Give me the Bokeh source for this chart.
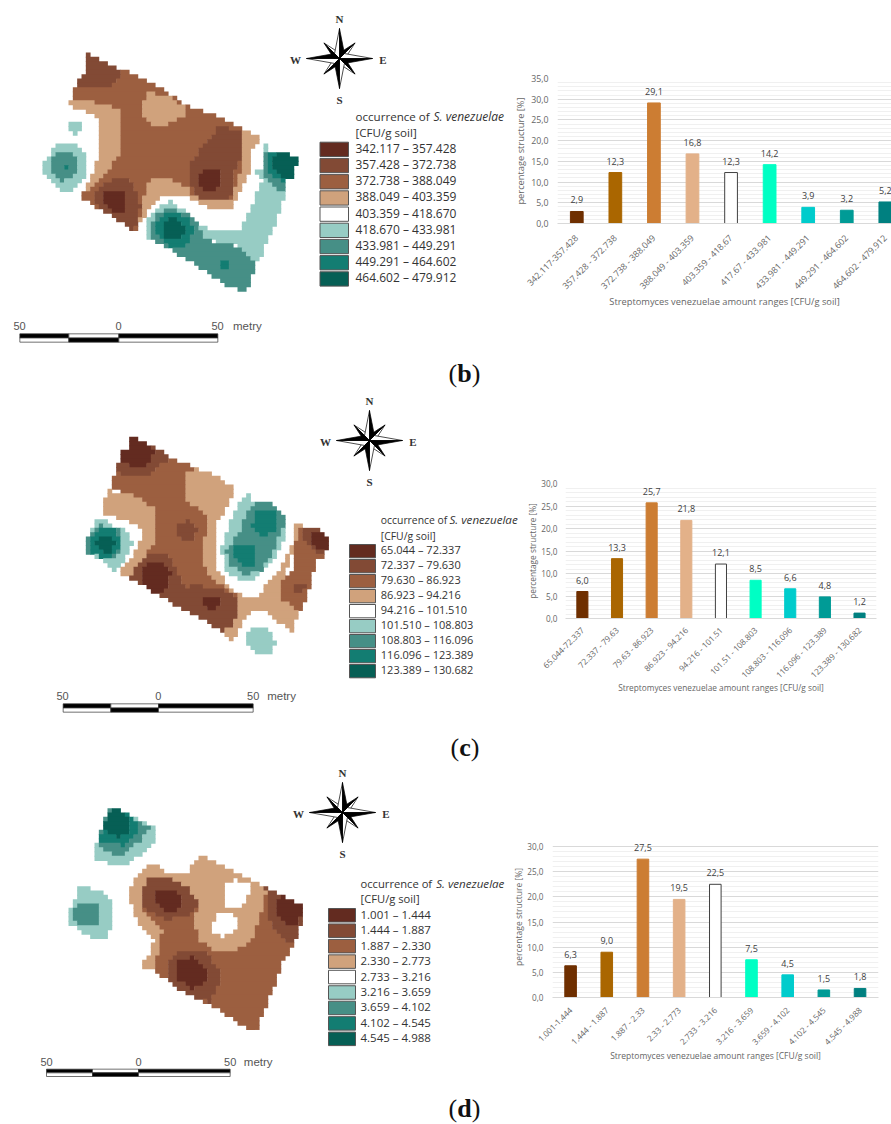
import math
import numpy as np
from bokeh.embed import file_html
from bokeh.resources import INLINE
from bokeh.plotting import figure
from bokeh.layouts import column, row
from bokeh.models import Range1d, FixedTicker, ColumnDataSource
from bokeh.core.properties import value

# ---------- data ----------
CHART_COLORS = ["#6F2F00", "#AA6600", "#CC7D33", "#E3B189", "#FFFFFF", "#00FFC4", "#00CCCC", "#009B96", "#008080"]
CLASS_COLORS = {1: "#632B20", 2: "#824A35", 3: "#9C5F40", 4: "#D0A27C", 6: "#97CCC4", 7: "#468F86", 8: "#137D72", 9: "#065F55"}
LEGEND_COLORS = ["#632B20", "#824A35", "#9C5F40", "#D0A27C", "#FFFFFF", "#97CCC4", "#468F86", "#137D72", "#065F55"]

b_values = [2.9, 12.3, 29.1, 16.8, 12.3, 14.2, 3.9, 3.2, 5.2]
b_ticks = ["342.117-357.428", "357.428 - 372.738", "372.738 - 388.049", "388.049 - 403.359", "403.359 - 418.67",
           "417.67 - 433.981", "433.981 - 449.291", "449.291 - 464.602", "464.602 - 479.912"]
b_legend = ["342.117 – 357.428", "357.428 – 372.738", "372.738 – 388.049", "388.049 – 403.359", "403.359 – 418.670",
            "418.670 – 433.981", "433.981 – 449.291", "449.291 – 464.602", "464.602 – 479.912"]

c_values = [6.0, 13.3, 25.7, 21.8, 12.1, 8.5, 6.6, 4.8, 1.2]
c_ticks = ["65.044-72.337", "72.337 - 79.63", "79.63 - 86.923", "86.923 - 94.216", "94.216 - 101.51",
           "101.51 - 108.803", "108.803 - 116.096", "116.096 - 123.389", "123.389 - 130.682"]
c_legend = ["65.044 – 72.337", "72.337 – 79.630", "79.630 – 86.923", "86.923 – 94.216", "94.216 – 101.510",
            "101.510 – 108.803", "108.803 – 116.096", "116.096 – 123.389", "123.389 – 130.682"]

d_values = [6.3, 9.0, 27.5, 19.5, 22.5, 7.5, 4.5, 1.5, 1.8]
d_ticks = ["1.001-1.444", "1.444 - 1.887", "1.887 - 2.33", "2.33 - 2.773", "2.733 - 3.216",
           "3.216 - 3.659", "3.659 - 4.102", "4.102 - 4.545", "4.545 - 4.988"]
d_legend = ["1.001 – 1.444", "1.444 – 1.887", "1.887 – 2.330", "2.330 – 2.773", "2.733 – 3.216",
            "3.216 – 3.659", "3.659 – 4.102", "4.102 – 4.545", "4.545 – 4.988"]

# Map zones: (class, outline); painted in order, then rastered to the map's cells.
map_b_zones = [
 (3, [(262,158),(285,170),(340,200),(365,205),(470,255),(560,318),(640,340),(750,395),(775,412),(775,430),(750,440),(750,500),(725,560),(690,630),(630,625),(560,590),(490,580),(450,620),(415,670),(405,690),(395,690),(340,650),(235,585),(265,545),(290,480),(300,390),(285,340),(210,318),(210,295),(222,290),(222,265),(235,260),(235,228),(250,225)]),
 (4, [(210,295),(270,300),(365,330),(365,400),(355,470),(285,550),(235,585),(265,545),(290,480),(300,390),(285,340),(210,318)]),
 (4, [(445,275),(500,285),(560,320),(555,340),(520,365),(480,385),(420,350),(430,300)]),
 (4, [(440,560),(450,535),(500,535),(565,565),(575,585),(640,600),(690,600),(725,500),(725,390),(750,395),(775,412),(775,430),(750,440),(750,500),(725,560),(690,630),(630,625),(560,590),(490,580),(450,620),(415,670),(425,600)]),
 (2, [(262,158),(285,170),(340,200),(365,220),(328,265),(235,262),(235,228),(250,225)]),
 (2, [(725,390),(655,380),(605,440),(570,490),(565,550),(590,590),(640,600),(690,595),(700,510),(725,460)]),
 (2, [(290,560),(345,530),(385,535),(405,570),(420,620),(405,680),(395,685),(340,650),(285,610)]),
 (1, [(590,515),(660,505),(660,560),(625,575),(590,550)]),
 (1, [(310,575),(378,572),(378,625),(345,645),(310,610)]),
 (6, [(218,360),(235,360),(235,370),(247,370),(247,390),(235,390),(235,398),(218,398),(218,390),(207,390),(207,370),(218,370)]),
 (6, [(165,428),(225,428),(248,450),(260,480),(260,520),(235,545),(210,570),(180,570),(150,530),(125,520),(125,495),(150,460)]),
 (7, [(180,452),(210,452),(235,475),(235,510),(210,530),(190,545),(165,525),(152,505),(152,470)]),
 (8, [(192,488),(208,488),(208,505),(192,505)]),
 (6, [(790,427),(805,440),(800,520),(830,560),(860,570),(845,600),(825,670),(790,740),(775,785),(750,770),(710,735),(640,725),(620,715),(610,690),(580,650),(510,600),(470,625),(440,660),(432,690),(445,710),(540,765),(620,760),(700,740),(790,530),(762,518),(762,505),(790,505)]),
 (6, [(600,670),(630,690),(760,690),(810,600),(840,600),(790,740),(775,785),(710,735),(620,715)]),
 (7, [(790,450),(805,450),(805,510),(825,530),(860,545),(860,570),(825,570),(795,530),(790,500)]),
 (7, [(445,680),(470,635),(510,625),(560,640),(590,670),(610,710),(640,730),(710,735),(750,770),(762,800),(745,855),(730,875),(700,860),(670,850),(640,830),(600,800),(540,765),(510,745),(445,710)]),
 (8, [(470,665),(500,640),(540,640),(570,660),(580,700),(560,730),(530,750),(510,740),(470,700)]),
 (8, [(805,450),(830,450),(820,500),(835,520),(865,530),(855,545),(825,535),(805,510)]),
 (8, [(658,785),(683,785),(683,808),(658,808)]),
 (9, [(485,670),(510,650),(545,660),(553,690),(535,715),(505,715),(485,700)]),
 (9, [(830,450),(860,455),(885,470),(895,490),(885,495),(880,530),(850,530),(820,510),(815,480)]),
]
map_c_zones = [
 (4, [(555,275),(585,265),(640,280),(700,320),(685,370),(650,420),(640,480),(640,550),(680,610),(720,645),(765,650),(830,580),(880,480),(880,420),(905,432),(890,480),(860,560),(845,600),(840,650),(895,700),(875,750),(860,745),(800,690),(770,685),(730,710),(700,775),(690,775),(660,750),(620,720),(600,600),(600,510),(625,430),(610,400),(540,350)]),
 (4, [(305,395),(320,330),(390,340),(465,380),(465,490),(385,595),(355,575),(385,540),(420,480),(420,440),(370,415)]),
 (3, [(345,265),(500,225),(590,265),(560,280),(548,350),(610,400),(625,430),(600,510),(625,590),(715,650),(710,700),(690,745),(660,750),(620,720),(540,680),(385,590),(420,550),(460,490),(460,380),(390,340),(330,325)]),
 (2, [(385,165),(405,165),(430,185),(510,228),(465,270),(440,290),(360,290),(345,265),(357,232),(370,205),(385,200)]),
 (1, [(385,165),(405,165),(430,185),(460,210),(445,250),(405,265),(357,235),(370,205),(385,200)]),
 (2, [(535,430),(570,420),(588,445),(585,470),(560,485),(535,470)]),
 (2, [(385,590),(420,540),(450,522),(500,525),(530,570),(555,620),(590,615),(660,625),(715,650),(712,700),(695,745),(660,750),(620,725),(540,680)]),
 (1, [(420,580),(440,550),(490,550),(510,575),(505,620),(470,640),(420,610)]),
 (1, [(610,650),(650,648),(665,670),(640,688),(610,680)]),
 (3, [(890,440),(930,435),(985,470),(975,520),(950,540),(920,640),(895,700),(840,650),(842,600),(880,560)]),
 (2, [(905,440),(930,435),(990,470),(975,520),(950,515),(905,480)]),
 (1, [(930,460),(955,455),(990,470),(975,510),(950,505),(930,490)]),
 (2, [(880,615),(915,615),(905,635),(880,635)]),
 (6, [(745,342),(755,365),(810,370),(860,410),(860,450),(830,520),(780,570),(750,598),(700,590),(670,560),(662,500),(690,420),(720,365)]),
 (7, [(740,400),(760,370),(810,370),(850,405),(850,430),(820,510),(780,570),(730,585),(685,550),(675,510),(710,465)]),
 (8, [(760,395),(825,395),(830,450),(790,470),(755,440)]),
 (8, [(700,500),(765,495),(765,555),(725,560),(700,530)]),
 (6, [(280,420),(315,420),(345,445),(385,450),(395,490),(375,525),(350,570),(335,570),(295,530),(255,515),(255,485),(270,465)]),
 (7, [(270,460),(300,435),(365,450),(365,520),(325,535),(255,515),(255,485)]),
 (8, [(270,470),(300,445),(340,445),(365,480),(350,520),(320,535),(280,520),(265,505)]),
 (9, [(295,465),(335,465),(345,490),(325,520),(295,510),(285,485)]),
 (6, [(740,755),(760,740),(800,740),(815,770),(828,785),(800,825),(780,825),(740,785)]),
]
map_d_zones = [
 (6, [(330,145),(350,145),(420,180),(470,208),(470,230),(420,280),(370,315),(340,315),(278,290),(278,270),(300,210)]),
 (7, [(330,145),(350,145),(420,185),(450,205),(420,240),(370,280),(340,280),(290,260),(290,245),(310,180)]),
 (8, [(330,145),(350,145),(410,180),(410,215),(370,255),(300,245),(302,205),(315,180)]),
 (9, [(330,145),(350,145),(390,185),(385,215),(350,230),(305,210),(315,180)]),
 (6, [(240,368),(270,385),(320,400),(338,430),(335,490),(310,535),(280,538),(240,510),(200,485),(200,455),(225,410)]),
 (7, [(240,425),(300,428),(300,480),(275,500),(240,495),(215,470),(220,445)]),
 (4, [(600,282),(640,305),(745,355),(800,380),(790,440),(750,545),(700,575),(640,570),(470,590),(460,630),(425,625),(425,600),(450,585),(460,530),(420,490),(395,450),(388,390),(410,345),(440,318),(480,318),(500,340),(555,340),(580,310)]),
 (3, [(800,380),(850,405),(900,430),(915,440),(900,490),(880,550),(850,595),(825,670),(790,750),(770,810),(730,795),(640,735),(590,715),(530,680),(460,630),(470,590),(485,515),(445,470),(425,440),(425,395),(445,355),(505,352),(555,375),(590,430),(585,490),(595,535),(640,575),(700,575),(750,545),(790,440)]),
 (2, [(445,355),(505,355),(555,375),(590,420),(590,440),(560,470),(490,478),(445,450),(422,430),(425,390)]),
 (1, [(470,395),(530,395),(545,420),(530,450),(490,455),(470,430)]),
 (2, [(500,600),(555,565),(610,570),(655,625),(655,670),(630,725),(590,715),(530,680),(497,650)]),
 (1, [(525,600),(575,590),(620,625),(620,660),(570,685),(525,650)]),
 (2, [(795,380),(825,395),(915,440),(900,490),(880,550),(850,540),(810,490),(800,440)]),
 (1, [(850,405),(915,440),(890,490),(860,490),(830,460),(830,420)]),
 (5, [(670,375),(700,355),(755,365),(755,395),(715,440),(680,440),(670,420)]),
 (5, [(635,490),(650,455),(690,455),(710,480),(705,510),(670,530),(640,520)]),
]

ARM_LENGTHS = [30, 33, 30, 33]
DIAG_LENGTH = 22

ZOOM = 3.0
CELL = 13 / 3
SANS = "Open Sans"


def inside(px, py, poly):
    xs = np.array([q[0] for q in poly], float)
    ys = np.array([q[1] for q in poly], float)
    res = np.zeros(px.shape, bool)
    for i in range(len(xs)):
        j = i - 1
        cond = (ys[i] > py) != (ys[j] > py)
        xcross = (xs[j] - xs[i]) * (py - ys[i]) / (ys[j] - ys[i] + 1e-9) + xs[i]
        res ^= cond & (px < xcross)
    return res


def draw_map(p, zones, y0):
    xs = np.arange(100 / ZOOM, 1000 / ZOOM, CELL)
    ys = np.arange(130 / ZOOM, 890 / ZOOM, CELL) + y0
    gx, gy = np.meshgrid(xs + CELL / 2, ys + CELL / 2)
    grid = np.zeros(gx.shape, int)
    for cls, poly in zones:
        pts = [(a / ZOOM, b / ZOOM + y0) for a, b in poly]
        grid[inside(gx, gy, pts)] = cls
    L, R, T, B, C = [], [], [], [], []
    for r in range(grid.shape[0]):
        c = 0
        while c < grid.shape[1]:
            k = grid[r, c]
            e = c
            while e + 1 < grid.shape[1] and grid[r, e + 1] == k:
                e += 1
            if k in CLASS_COLORS:
                # each run reaches slightly under the next row so no seam shows
                L.append(xs[c]); R.append(xs[e] + CELL + 0.4); T.append(ys[r]); B.append(ys[r] + CELL + 0.8)
                C.append(CLASS_COLORS[k])
            c = e + 1
    src = ColumnDataSource(dict(left=L, right=R, top=T, bottom=B, color=C))
    p.quad(left="left", right="right", top="top", bottom="bottom", fill_color="color", line_color=None, source=src)


def draw_compass(p, cx, cy):
    black_x, black_y, white_x, white_y = [], [], [], []
    for k in range(4):
        t = math.radians(45 + 90 * k)
        tip = (cx + DIAG_LENGTH * math.sin(t), cy - DIAG_LENGTH * math.cos(t))
        for s, (bx, by) in ((-1, (black_x, black_y)), (1, (white_x, white_y))):
            u = t + s * math.radians(45)
            bx.append([cx, tip[0], cx + 5.5 * math.sin(u)]); by.append([cy, tip[1], cy - 5.5 * math.cos(u)])
    p.patches(white_x, white_y, fill_color="white", line_color="black", line_width=0.7)
    p.patches(black_x, black_y, fill_color="black", line_color="black", line_width=0.7)
    black_x, black_y, white_x, white_y = [], [], [], []
    for k, ln in enumerate(ARM_LENGTHS):
        t = math.radians(90 * k)
        tip = (cx + ln * math.sin(t), cy - ln * math.cos(t))
        for s, (bx, by) in ((1, (black_x, black_y)), (-1, (white_x, white_y))):
            u = t + s * math.radians(45)
            bx.append([cx, tip[0], cx + 7 * math.sin(u)]); by.append([cy, tip[1], cy - 7 * math.cos(u)])
    p.patches(white_x, white_y, fill_color="white", line_color="black", line_width=0.7)
    p.patches(black_x, black_y, fill_color="black", line_color="black", line_width=0.7)
    p.text([cx, cx + 43.5, cx, cx - 44], [cy - 40, cy + 1, cy + 41, cy + 1], text=["N", "E", "S", "W"],
           text_font=value("Liberation Serif"), text_font_style="bold", text_font_size="11px",
           text_color="#333333", text_align="center", text_baseline="middle")


def draw_scale(p, edges, y1, y2, ty, labels, metry_x):
    mid = (y1 + y2) / 2
    for i in range(3):
        top_col = "#FFFFFF" if i == 1 else "#000000"
        bot_col = "#000000" if i == 1 else "#FFFFFF"
        p.quad(left=[edges[i]], right=[edges[i + 1]], top=[y1], bottom=[mid], fill_color=top_col, line_color="#333333", line_width=0.7)
        p.quad(left=[edges[i]], right=[edges[i + 1]], top=[mid], bottom=[y2], fill_color=bot_col, line_color="#333333", line_width=0.7)
    p.text(labels, [ty] * 3, text=["50", "0", "50"], text_font=value("Liberation Sans"), text_font_size="11px",
           text_color="#555555", text_align="center", text_baseline="middle")
    p.text([metry_x], [ty], text=["metry"], text_font=value("Liberation Sans"), text_font_size="11.5px",
           text_color="#555555", text_baseline="middle")


def draw_legend(p, x1, x2, y_top, sw_h, step, lab_x, lab_y0, lab_step, labels, size, t1, t2, ital_x, t_size, i_size):
    tops = [y_top + i * step for i in range(9)]
    p.quad(left=[x1] * 9, right=[x2] * 9, top=tops, bottom=[t + sw_h for t in tops], fill_color=LEGEND_COLORS,
           line_color="#555555", line_width=1)
    p.text([lab_x] * 9, [lab_y0 + i * lab_step for i in range(9)], text=labels, text_font=value(SANS),
           text_font_size=size, text_color="#333333", text_baseline="middle")
    p.text([lab_x], [t1], text=["occurrence of"], text_font=value(SANS), text_font_size=t_size,
           text_color="#333333", text_baseline="middle")
    p.text([ital_x], [t1], text=["S. venezuelae"], text_font=value(SANS), text_font_size=i_size, text_font_style="italic",
           text_color="#333333", text_baseline="middle")
    p.text([lab_x], [t2], text=["[CFU/g soil]"], text_font=value(SANS), text_font_size=t_size,
           text_color="#333333", text_baseline="middle")


def draw_caption(p, letter, letter_w, x, y):
    f = value("Liberation Serif")
    p.text([x], [y], text=["("], text_font=f, text_font_size="26px", text_color="#111111", text_baseline="middle")
    p.text([x + 8.7], [y], text=[letter], text_font=f, text_font_size="26px", text_font_style="bold", text_color="#111111", text_baseline="middle")
    p.text([x + 8.7 + letter_w], [y], text=[")"], text_font=f, text_font_size="26px", text_color="#111111", text_baseline="middle")


def map_fig(w, y_top, y_bot):
    p = figure(width=w, height=y_bot - y_top, x_range=Range1d(0, w), y_range=Range1d(y_bot, y_top),
               toolbar_location=None, output_backend="svg", min_border=0, outline_line_color=None)
    p.axis.visible = False
    p.grid.visible = False
    return p


def chart_fig(fig_x, fig_w, y_top, y_bot, frame_l, frame_r, frame_t, frame_0, tick_max, y_hi, x_lo, x_hi,
              values, ticks, bar_w, tick_size, ax_size, y_std, lab_stand, x_std, xlab_stand):
    p = figure(width=fig_w, height=y_bot - y_top, toolbar_location=None, output_backend="svg",
               x_range=Range1d(x_lo, x_hi), y_range=Range1d(0, y_hi), outline_line_color=None,
               min_border_left=frame_l - fig_x, min_border_right=fig_x + fig_w - frame_r,
               min_border_top=frame_t - y_top, min_border_bottom=y_bot - frame_0)
    idx = list(range(1, len(values) + 1))
    line = ["#404040" if c == "#FFFFFF" else c for c in CHART_COLORS]
    p.vbar(x=idx, top=values, width=bar_w, bottom=0, fill_color=CHART_COLORS, line_color=line, line_width=1)
    p.text(idx, values, text=[f"{v:.1f}".replace(".", ",") for v in values], text_font=value(SANS), text_font_size="9px",
           text_color="#404040", text_align="center", text_baseline="bottom", y_offset=-8)
    yt = list(range(0, tick_max + 1, 5))
    p.yaxis.ticker = FixedTicker(ticks=yt)
    p.yaxis.major_label_overrides = {t: f"{t:.1f}".replace(".", ",") for t in yt}
    p.xaxis.ticker = FixedTicker(ticks=idx)
    p.xaxis.major_label_overrides = dict(zip(idx, ticks))
    p.xaxis.major_label_orientation = math.pi / 4
    p.xgrid.visible = False
    p.ygrid.ticker = FixedTicker(ticks=yt, minor_ticks=[t for t in range(0, tick_max + 1) if t % 5])
    p.ygrid.grid_line_color = "#D9D9D9"
    p.ygrid.minor_grid_line_color = "#F0F0F0"
    for ax in (p.xaxis, p.yaxis):
        ax.major_tick_line_color = None
        ax.minor_tick_line_color = None
        ax.major_tick_out = 0
        ax.major_tick_in = 0
        ax.minor_tick_out = 0
        ax.minor_tick_in = 0
        ax.major_label_text_font = SANS
        ax.major_label_text_color = "#666666"
        ax.major_label_text_font_size = tick_size
        ax.axis_label_text_font = SANS
        ax.axis_label_text_font_style = "normal"
        ax.axis_label_text_color = "#666666"
        ax.axis_label_text_font_size = ax_size
    p.yaxis.axis_line_color = None
    p.xaxis.axis_line_color = "#D9D9D9"
    p.yaxis.major_label_standoff = y_std
    p.xaxis.major_label_standoff = x_std
    p.yaxis.axis_label = "percentage structure [%]"
    p.yaxis.axis_label_standoff = lab_stand
    p.xaxis.axis_label = "Streptomyces venezuelae amount ranges [CFU/g soil]"
    p.xaxis.axis_label_standoff = xlab_stand
    return p


# ---------- row (b) ----------
mb = map_fig(510, 0, 392)
draw_map(mb, map_b_zones, 0)
draw_compass(mb, 339, 58)
draw_scale(mb, [58 / 3, 205 / 3, 355 / 3, 652 / 3], 1000 / 3, 1025 / 3, 325, [19, 118, 217], 232.5)
draw_legend(mb, 319.5, 348, 141.7, 14.3, 16.2, 355, 147.7, 16.2, b_legend, "12px", 115.7, 132.3, 433, "11.6px", "12px")
draw_caption(mb, "b", 14.5, 448, 373)
cb = chart_fig(510, 381, 0, 392, 557, 891, 78, 223, 35, 35, 0.5, 9.16, b_values, b_ticks, 0.33, "8.8px", "9.3px", 9, 1, 13, -4)

# ---------- row (c) ----------
mc = map_fig(524, 392, 768)
draw_map(mc, map_c_zones, 380)
draw_compass(mc, 369, 440)
draw_scale(mc, [188 / 3, 331 / 3, 474 / 3, 758 / 3], 380 + 970 / 3, 380 + 995 / 3, 380 + 947 / 3, [62, 157.7, 252.7], 266.7)
draw_legend(mc, 349, 375, 544, 13.3, 15, 380.3, 549, 15, c_legend, "11px", 519.3, 535, 449, "10.4px", "11.6px")
draw_caption(mc, "c", 11.5, 450, 747)
cc = chart_fig(524, 367, 392, 768, 563, 876, 483, 618, 30, 30, 0.513, 9.49, c_values, c_ticks, 0.32, "8.2px", "8.3px", 8, 0, 10, -5)

# ---------- row (d) ----------
md = map_fig(510, 768, 1124)
draw_map(md, map_d_zones, 760)
draw_compass(md, 342, 812)
draw_scale(md, [138 / 3, 276 / 3, 414 / 3, 689 / 3], 760 + 926 / 3, 760 + 948 / 3, 760 + 903 / 3, [46, 138, 229.7], 243.3)
draw_legend(md, 328, 355, 908, 13.5, 15.45, 360, 913.7, 15.45, d_legend, "11.5px", 882.7, 898, 435.7, "11.2px", "11.6px")
draw_caption(md, "d", 14.5, 448, 1108)
# the frame runs a little above the 30 line, so the 27,5 label is not cut off
cd = chart_fig(510, 381, 768, 1124, 550, 878, 836, 997, 30, 32, 0.5, 9.51, d_values, d_ticks, 0.32, "8.2px", "8.5px", 9, 0, 11, -4)

page = column(row(column(mb), column(cb)), row(column(mc), column(cc)), row(column(md), column(cd)))
open("out.html", "w").write(file_html(page, INLINE))
